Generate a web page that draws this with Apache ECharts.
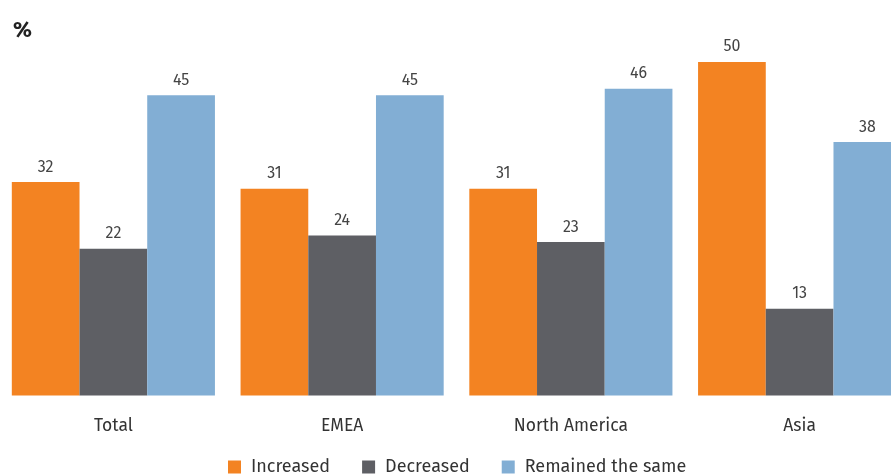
<!DOCTYPE html>
<html>
<head>
<meta charset="utf-8">
<script src="https://cdn.jsdelivr.net/npm/echarts@6/dist/echarts.min.js"></script>
<style>
  html, body { margin: 0; padding: 0; background: #fff; }
  #chart { width: 891px; height: 476px; }
</style>
</head>
<body>
<div id="chart"></div>
<script>
// Regions and share of respondents (%) per response
const regions = ['Total', 'EMEA', 'North America', 'Asia'];
const increased = [32, 31, 31, 50];
const decreased = [22, 24, 23, 13];
const remainedSame = [45, 45, 46, 38];
const seriesNames = ['Increased', 'Decreased', 'Remained the same'];

const FONT = '"Fira Sans", "Noto Sans", "Liberation Sans", sans-serif';
const colors = ['#f38322', '#5e5f64', '#82aed4'];

const chart = echarts.init(document.getElementById('chart'), null, { renderer: 'canvas' });

const valueLabel = {
  show: true,
  position: 'top',
  distance: 7,
  color: '#444',
  fontSize: 16,
  fontFamily: FONT
};

function barSeries(name, data, color) {
  return {
    name: name,
    type: 'bar',
    data: data,
    itemStyle: { color: color },
    barGap: '0%',
    barCategoryGap: '11.2%',
    label: valueLabel,
    emphasis: { disabled: true }
  };
}

chart.setOption({
  animation: false,
  title: {
    text: '%',
    left: 8,
    top: 15,
    textStyle: { fontSize: 22, fontWeight: 'bold', color: '#222', fontFamily: FONT }
  },
  legend: {
    data: seriesNames,
    bottom: -5,
    left: 223,
    itemWidth: 13,
    itemHeight: 13,
    itemGap: 32,
    icon: 'rect',
    textStyle: { fontSize: 18, color: '#333', fontFamily: FONT, padding: [0, 0, 0, 5] }
  },
  // The plot runs past the right edge so the last group is partly cut off
  grid: {
    left: -1,
    width: 915,
    top: 62,
    bottom: 80.5,
    containLabel: false,
    outerBoundsMode: 'none'
  },
  xAxis: {
    type: 'category',
    data: regions,
    axisLine: { show: false },
    axisTick: { show: false },
    axisLabel: { margin: 22, fontSize: 17.5, color: '#333', fontFamily: FONT }
  },
  yAxis: {
    type: 'value',
    min: 0,
    max: 50,
    show: false,
    splitLine: { show: false }
  },
  series: [
    barSeries(seriesNames[0], increased, colors[0]),
    barSeries(seriesNames[1], decreased, colors[1]),
    barSeries(seriesNames[2], remainedSame, colors[2])
  ]
});
</script>
</body>
</html>
